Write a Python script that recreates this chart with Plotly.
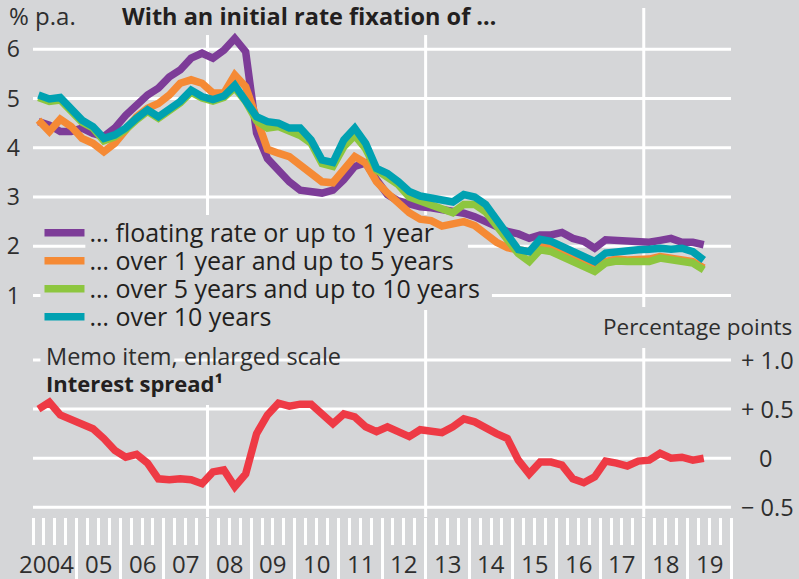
import plotly.graph_objects as go

# ---------------- data ----------------
periods = [f"{y}Q{q}" for y in range(2004, 2020) for q in range(1, 5)][:62]

floating_up_to_1y = [4.53, 4.46, 4.33, 4.33, 4.40, 4.29, 4.23, 4.40, 4.66, 4.87, 5.07, 5.21, 5.44, 5.58, 5.82, 5.92,
                     5.82, 5.98, 6.22, 5.95, 4.30, 3.78, 3.52, 3.31, 3.14, 3.11, 3.08, 3.14, 3.35, 3.62, 3.69, 3.35,
                     3.05, 2.92, 2.85, 2.80, 2.78, 2.74, 2.72, 2.67, 2.60, 2.50, 2.38, 2.30, 2.25, 2.16, 2.23, 2.23,
                     2.28, 2.16, 2.10, 1.96, 2.13, 2.12, 2.08, 2.08, 2.08, 2.12, 2.16, 2.08, 2.08, 2.03]
over_1y_to_5y = [4.56, 4.33, 4.58, 4.43, 4.19, 4.09, 3.92, 4.09, 4.36, 4.63, 4.80, 4.90, 5.07, 5.31, 5.38, 5.31,
                 5.11, 5.11, 5.48, 5.24, 4.60, 3.97, 3.89, 3.82, 3.65, 3.48, 3.31, 3.29, 3.58, 3.82, 3.69, 3.31,
                 3.08, 2.88, 2.68, 2.55, 2.52, 2.41, 2.45, 2.50, 2.42, 2.25, 2.08, 1.97, 1.92, 1.89, 2.00, 1.96,
                 1.86, 1.76, 1.66, 1.59, 1.69, 1.74, 1.72, 1.72, 1.74, 1.79, 1.76, 1.74, 1.69, 1.56]
over_5y_to_10y = [5.02, 4.94, 4.97, 4.76, 4.52, 4.40, 4.14, 4.22, 4.37, 4.57, 4.74, 4.60, 4.74, 4.91, 5.13, 5.01,
                  4.95, 5.02, 5.22, 4.94, 4.55, 4.40, 4.43, 4.33, 4.25, 4.09, 3.68, 3.62, 4.02, 4.25, 3.98, 3.55,
                  3.42, 3.25, 3.00, 2.92, 2.85, 2.75, 2.68, 2.85, 2.85, 2.70, 2.40, 2.10, 1.85, 1.69, 1.93, 1.89,
                  1.79, 1.66, 1.56, 1.49, 1.66, 1.70, 1.69, 1.69, 1.69, 1.76, 1.72, 1.71, 1.66, 1.52]
over_10y = [5.07, 4.99, 5.02, 4.80, 4.56, 4.43, 4.19, 4.26, 4.40, 4.60, 4.77, 4.63, 4.77, 4.94, 5.17, 5.04,
            4.98, 5.05, 5.27, 4.97, 4.63, 4.53, 4.50, 4.40, 4.40, 4.16, 3.75, 3.70, 4.16, 4.40, 4.09, 3.58,
            3.48, 3.31, 3.11, 3.02, 2.97, 2.95, 2.90, 3.05, 3.00, 2.85, 2.55, 2.20, 1.93, 1.89, 2.14, 2.10,
            2.00, 1.87, 1.79, 1.69, 1.86, 1.89, 1.93, 1.93, 1.94, 1.96, 1.94, 1.96, 1.89, 1.72]
interest_spread = [0.50, 0.57, 0.44, 0.39, 0.35, 0.30, 0.20, 0.08, 0.01, 0.04, -0.05, -0.21, -0.22, -0.21, -0.22, -0.26,
                   -0.14, -0.12, -0.29, -0.16, 0.25, 0.44, 0.56, 0.53, 0.55, 0.55, 0.45, 0.35, 0.45, 0.42, 0.32, 0.27,
                   0.32, 0.28, 0.22, 0.29, 0.27, 0.26, 0.32, 0.40, 0.37, 0.30, 0.25, 0.20, -0.02, -0.16, -0.04, -0.04,
                   -0.07, -0.21, -0.25, -0.19, -0.03, -0.05, -0.08, -0.03, -0.02, 0.05, 0.00, 0.01, -0.02, 0.00]

series_names = ["… floating rate or up to 1 year",
                "… over 1 year and up to 5 years",
                "… over 5 years and up to 10 years",
                "… over 10 years"]
series_colors = ["#7D3C98", "#F58A35", "#8DC63F", "#00A1B1"]
spread_color = "#EE3A45"

year_labels = ["2004", "05", "06", "07", "08", "09", "10", "11", "12", "13", "14", "15", "16", "17", "18", "19"]
left_ticks = [1, 2, 3, 4, 5, 6]
right_ticks = [-0.5, 0, 0.5, 1.0]
right_tick_text = ["− 0.5", "0", "+ 0.5", "+ 1.0"]

# ---------------- helpers ----------------
def period_to_x(p):
    y, q = p.split("Q")
    return int(y) + (int(q) - 1) * 0.25 + 0.125

x = [period_to_x(p) for p in periods]

BG = "#D5D6D8"
TXT = "#231F20"
GREY_TXT = "#2E2E2E"
FONT = "Open Sans, Noto Sans, sans-serif"
Y1 = [-3.498, 6.838]
Y2 = [-0.599, 4.585]

fig = go.Figure()
legend_ids = ["legend", "legend2", "legend3", "legend4"]
for name, vals, col, lid in zip(series_names, [floating_up_to_1y, over_1y_to_5y, over_5y_to_10y, over_10y],
                                series_colors, legend_ids):
    fig.add_trace(go.Scatter(x=x, y=vals, mode="lines", name=name, legend=lid,
                             line=dict(color=col, width=7.5), yaxis="y"))
fig.add_trace(go.Scatter(x=x, y=interest_spread, mode="lines", name="Interest spread",
                         line=dict(color=spread_color, width=7.5), yaxis="y2", showlegend=False))

# ---------------- gridlines (white, broken where text sits) ----------------
shapes = []
def hline(yv, x0, x1, yref):
    shapes.append(dict(type="line", xref="x", yref=yref, x0=x0, x1=x1, y0=yv, y1=yv,
                       line=dict(color="white", width=3), layer="below"))
def vline(xv, y0, y1):
    shapes.append(dict(type="line", xref="x", yref="y", x0=xv, x1=xv, y0=y0, y1=y1,
                       line=dict(color="white", width=3), layer="below"))

for v in [3, 4, 5, 6]:
    hline(v, 2004, 2020, "y")
hline(2, 2004, 2005.2, "y"); hline(2, 2013.97, 2020, "y")
hline(1, 2004, 2004.17, "y"); hline(1, 2014.52, 2020, "y")
hline(1.0, 2004, 2004.17, "y2"); hline(1.0, 2007.24, 2020, "y2")
for v in [0.5, 0, -0.5]:
    hline(v, 2004, 2020, "y2")
vline(2008, 6.289, 2.634); vline(2008, -1.223, Y1[0])
vline(2013, 6.289, 2.634); vline(2013, 0.706, Y1[0])
vline(2018, Y1[1], 0.766); vline(2018, -0.066, Y1[0])

# ---------------- annotations ----------------
ann = []
ann.append(dict(text="% p.a.", xref="paper", yref="paper", x=0, y=1, xanchor="left", yanchor="middle",
                xshift=-26.5, yshift=-7.5, showarrow=False, font=dict(size=24, color=GREY_TXT, family=FONT)))
ann.append(dict(text="<b>With an initial rate fixation of …</b>", xref="paper", yref="paper", x=0, y=1,
                xanchor="left", yanchor="middle", xshift=86.5, yshift=-7.5, showarrow=False,
                font=dict(size=23.5, color=TXT, family=FONT)))
ann.append(dict(text="Memo item, enlarged scale", xref="paper", yref="y2", x=0, y=1.04, xanchor="left",
                yanchor="middle", xshift=10.5, showarrow=False, font=dict(size=23.5, color=GREY_TXT, family=FONT)))
ann.append(dict(text="<b>Interest spread¹</b>", xref="paper", yref="y2", x=0, y=0.766, xanchor="left",
                yanchor="middle", xshift=10.5, showarrow=False, font=dict(size=22, color=TXT, family=FONT)))
ann.append(dict(text="Percentage points", xref="paper", yref="y2", x=1, y=1.346, xanchor="right",
                yanchor="middle", xshift=62.5, showarrow=False, font=dict(size=22.5, color=GREY_TXT, family=FONT)))
for v, t in zip(right_ticks, right_tick_text):
    if v == 0:
        ann.append(dict(text=t, xref="paper", yref="y2", x=1, y=v, xanchor="center", yanchor="middle",
                        xshift=34.5, showarrow=False, font=dict(size=23.5, color=GREY_TXT, family=FONT)))
    else:
        ann.append(dict(text=t, xref="paper", yref="y2", x=1, y=v, xanchor="left", yanchor="middle",
                        xshift=7.5, showarrow=False, font=dict(size=23.5, color=GREY_TXT, family=FONT)))
for i, lab in enumerate(year_labels):
    xv = 2004 + i + (0.3 if i == 0 else 0.5)
    ann.append(dict(text=lab, xref="x", yref="paper", x=xv, y=0, xanchor="center", yanchor="middle",
                    yshift=-46, showarrow=False, font=dict(size=24, color=GREY_TXT, family=FONT)))

legend_common = dict(xanchor="left", yanchor="middle", bgcolor="rgba(0,0,0,0)",
                     font=dict(size=25, color=TXT, family=FONT), itemwidth=40)
legend_y = [0.558, 0.503, 0.448, 0.393]

fig.update_layout(
    width=799, height=579,
    margin=dict(l=32.5, r=67.5, t=8, b=62, pad=0, autoexpand=False),
    paper_bgcolor=BG, plot_bgcolor=BG,
    font=dict(family=FONT, color=TXT, size=21),
    shapes=shapes, annotations=ann,
    showlegend=True,
    legend=dict(x=0.0093, y=legend_y[0], **legend_common),
    legend2=dict(x=0.0093, y=legend_y[1], **legend_common),
    legend3=dict(x=0.0093, y=legend_y[2], **legend_common),
    legend4=dict(x=0.0093, y=legend_y[3], **legend_common),
    xaxis=dict(range=[2004, 2020], showgrid=False, zeroline=False, showline=False, automargin=False,
               tickmode="array", tickvals=list(range(2005, 2021)), ticks="outside", ticklen=62,
               tickwidth=3, tickcolor="white", showticklabels=False,
               minor=dict(tickmode="linear", tick0=2004, dtick=0.25, ticks="outside", ticklen=27,
                          tickwidth=3, tickcolor="white", showgrid=False)),
    yaxis=dict(range=Y1, showgrid=False, zeroline=False, showline=False, tickmode="array", automargin=False,
               tickvals=left_ticks, ticktext=[str(v) for v in left_ticks], ticks="",
               ticklabelstandoff=12, tickfont=dict(size=23, color=GREY_TXT, family=FONT)),
    yaxis2=dict(range=Y2, overlaying="y", side="right", showgrid=False, zeroline=False, automargin=False,
                showline=False, showticklabels=False, ticks=""),
)

fig.write_html("out.html", config={"displayModeBar": False},
               post_script="document.body.style.margin='0px';document.body.style.padding='0px';"
                           "document.body.style.background='#D5D6D8';")
